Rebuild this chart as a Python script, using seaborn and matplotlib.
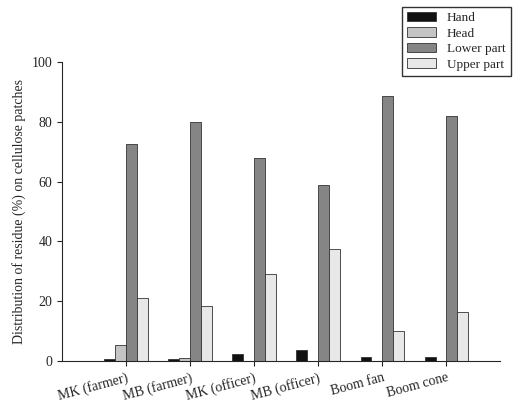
import matplotlib
matplotlib.use("Agg")
import matplotlib.pyplot as plt
import pandas as pd
import seaborn as sns

groups = ["MK (farmer)", "MB (farmer)", "MK (officer)", "MB (officer)", "Boom fan", "Boom cone"]
hand = [0.6, 0.6, 2.5, 3.6, 1.3, 1.3]
head = [5.5, 1.0, 0.0, 0.0, 0.0, 0.0]
lower = [72.5, 80.0, 68.0, 59.0, 88.5, 82.0]
upper = [21.0, 18.5, 29.2, 37.3, 10.0, 16.5]
parts = ["Hand", "Head", "Lower part", "Upper part"]
colors = ["#111111", "#c4c4c4", "#858585", "#e8e8e8"]

rows = []
for name, vals in zip(parts, [hand, head, lower, upper]):
    for g, v in zip(groups, vals):
        rows.append({"group": g, "part": name, "value": v})
df = pd.DataFrame(rows)

sns.set_style("ticks")
plt.rcParams["font.family"] = ["Liberation Serif", "DejaVu Serif"]

fig = plt.figure(figsize=(5.2, 4.07), dpi=100)
ax = fig.add_axes([0.119, 0.113, 0.843, 0.735])
sns.barplot(data=df, x="group", y="value", hue="part", palette=colors,
            width=0.68, edgecolor="#333333", linewidth=0.6, ax=ax, legend=False)
ax.set_xlim(-1.0, 5.84)
ax.set_ylim(0, 100)
ax.set_yticks(range(0, 101, 20))
ax.set_xlabel("")
ax.set_ylabel("Distribution of residue (%) on cellulose patches", fontsize=10)
ax.set_xticks(range(len(groups)))
ax.set_xticklabels(groups, rotation=15, ha="right", rotation_mode="anchor", fontsize=10)
ax.tick_params(labelsize=10)
sns.despine(ax=ax)

handles = [plt.Rectangle((0, 0), 1, 1, facecolor=c, edgecolor="#333333", linewidth=0.6) for c in colors]
fig.legend(handles, parts, loc="upper right", bbox_to_anchor=(0.995, 1.0),
           fontsize=9.5, frameon=True, fancybox=False, edgecolor="black",
           handlelength=2.2, borderpad=0.4, labelspacing=0.25)

fig.savefig("out.png", dpi=100)
